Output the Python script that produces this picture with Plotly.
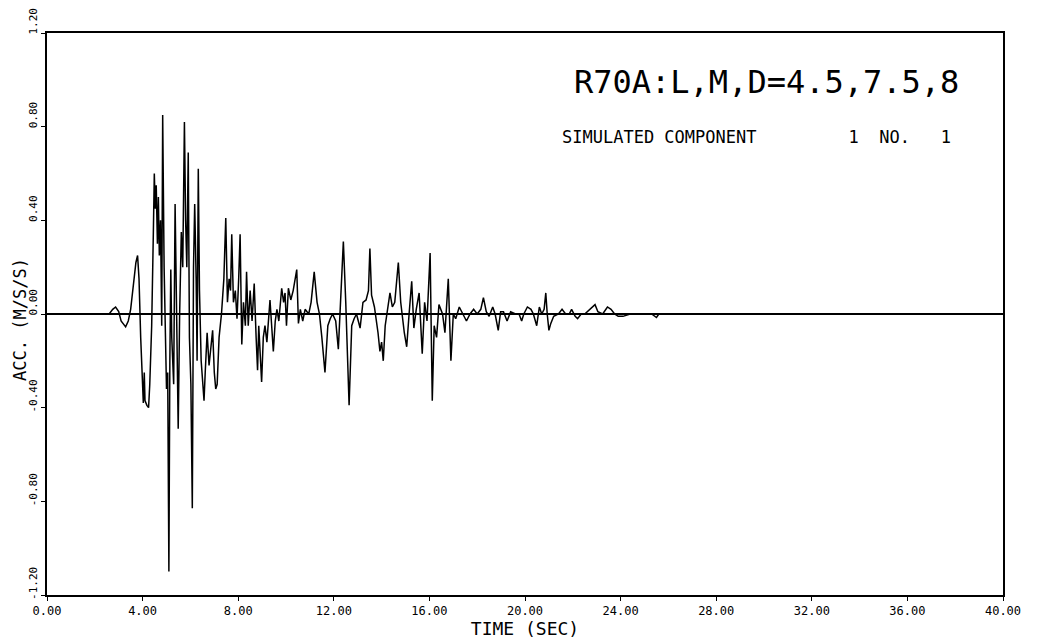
import plotly.graph_objects as go

# Time (s) and acceleration (m/s/s)
time_s = [
    0.0, 2.60, 2.75, 2.87, 3.00, 3.10, 3.29, 3.40, 3.50, 3.62, 3.72, 3.79, 3.85, 3.92, 3.98,
    4.03, 4.07, 4.10, 4.18, 4.25, 4.30, 4.38, 4.45, 4.49, 4.53, 4.57, 4.62, 4.66, 4.70, 4.75,
    4.80, 4.84, 4.90, 4.95, 5.00, 5.05, 5.10, 5.14, 5.18, 5.22, 5.30, 5.36, 5.42, 5.49, 5.55,
    5.62, 5.68, 5.75, 5.80, 5.85, 5.91, 5.96, 6.02, 6.08, 6.13, 6.18, 6.24, 6.28, 6.33, 6.38,
    6.45, 6.52, 6.57, 6.62, 6.70, 6.78, 6.85, 6.93, 7.00, 7.06, 7.12, 7.20, 7.30, 7.40, 7.48,
    7.55, 7.62, 7.68, 7.73, 7.80, 7.88, 7.95, 8.02, 8.08, 8.15, 8.22, 8.30, 8.35, 8.42, 8.50,
    8.58, 8.67, 8.75, 8.81, 8.86, 8.92, 8.98, 9.05, 9.12, 9.20, 9.28, 9.33, 9.40, 9.47, 9.55,
    9.62, 9.70, 9.82, 9.90, 9.96, 10.02, 10.10, 10.20, 10.30, 10.45, 10.52, 10.60, 10.70, 10.80, 10.95,
    11.05, 11.18, 11.30, 11.40, 11.50, 11.63, 11.75, 11.85, 11.95, 12.08, 12.19, 12.28, 12.40, 12.50, 12.64,
    12.75, 12.85, 12.95, 13.10, 13.22, 13.35, 13.45, 13.51, 13.58, 13.70, 13.85, 13.93, 14.00, 14.07, 14.15,
    14.25, 14.35, 14.45, 14.55, 14.70, 14.80, 14.95, 15.05, 15.15, 15.26, 15.35, 15.45, 15.57, 15.70, 15.80,
    15.90, 16.03, 16.12, 16.20, 16.30, 16.40, 16.55, 16.65, 16.79, 16.90, 17.00, 17.10, 17.25, 17.40, 17.55,
    17.70, 17.85, 18.00, 18.15, 18.26, 18.38, 18.50, 18.65, 18.75, 18.88, 18.98, 19.10, 19.25, 19.40, 19.60,
    19.75, 19.86, 19.95, 20.10, 20.25, 20.35, 20.49, 20.60, 20.70, 20.80, 20.87, 20.93, 21.00, 21.08, 21.20,
    21.40, 21.55, 21.70, 21.85, 21.95, 22.10, 22.20, 22.35, 22.50, 22.70, 22.93, 23.05, 23.25, 23.45, 23.60,
    23.75, 23.90, 24.10, 24.40, 24.60, 25.30, 25.50, 25.60, 40.0,
]
accel = [
    0.0, 0.0, 0.02, 0.03, 0.01, -0.03, -0.055, -0.03, 0.02, 0.12, 0.22, 0.25, 0.15, -0.10, -0.30,
    -0.38, -0.25, -0.37, -0.39, -0.40, -0.30, -0.05, 0.35, 0.60, 0.45, 0.55, 0.30, 0.50, 0.25, 0.40,
    -0.05, 0.85, 0.20, -0.05, -0.32, -0.25, -1.10, -0.20, 0.19, -0.10, -0.30, 0.47, 0.10, -0.49, 0.0,
    0.35, 0.20, 0.82, 0.40, 0.20, 0.69, -0.10, -0.30, -0.83, 0.20, 0.47, 0.15, -0.20, 0.62, 0.10,
    -0.20, -0.30, -0.37, -0.25, -0.08, -0.22, -0.15, -0.07, -0.25, -0.32, -0.30, -0.10, 0.0, 0.15, 0.41,
    0.05, 0.15, 0.10, 0.34, 0.05, 0.10, -0.02, 0.15, 0.34, -0.13, 0.05, -0.05, 0.18, -0.05, 0.10,
    -0.03, 0.13, -0.10, -0.24, -0.05, -0.15, -0.29, -0.10, -0.05, -0.12, 0.02, 0.06, -0.05, -0.16, -0.03,
    0.02, -0.03, 0.11, 0.05, 0.09, -0.05, 0.11, 0.06, 0.10, 0.19, -0.04, 0.02, -0.03, 0.02, 0.0,
    0.05, 0.18, 0.05, 0.0, -0.10, -0.25, -0.05, -0.02, 0.0, -0.03, -0.15, 0.05, 0.31, 0.05, -0.39,
    -0.05, -0.02, 0.0, -0.06, 0.05, 0.06, 0.10, 0.28, 0.08, 0.03, -0.08, -0.16, -0.12, -0.20, -0.05,
    0.02, 0.09, 0.03, 0.05, 0.22, 0.05, -0.08, -0.14, 0.0, 0.14, -0.06, 0.02, 0.09, -0.17, 0.05,
    -0.03, 0.26, -0.37, -0.05, -0.10, 0.04, 0.0, -0.08, 0.15, -0.20, 0.0, -0.02, 0.03, 0.0, -0.03,
    0.0, 0.02, 0.0, 0.02, 0.07, 0.01, -0.01, 0.03, 0.0, -0.07, 0.01, 0.01, -0.03, 0.01, 0.0,
    0.0, -0.03, 0.0, 0.03, 0.02, 0.0, -0.05, 0.03, 0.0, 0.02, 0.09, 0.0, -0.07, -0.04, -0.01,
    0.0, 0.02, 0.0, 0.0, 0.02, -0.01, -0.02, 0.0, 0.0, 0.02, 0.04, 0.01, 0.0, 0.03, 0.02,
    0.0, -0.01, -0.01, 0.0, 0.0, 0.0, -0.015, 0.0, 0.0,
]

x_ticks = [0, 4, 8, 12, 16, 20, 24, 28, 32, 36, 40]
x_tick_labels = ["0.00", "4.00", "8.00", "12.00", "16.00", "20.00", "24.00", "28.00", "32.00", "36.00", "40.00"]
y_ticks = [-1.2, -0.8, -0.4, 0.0, 0.4, 0.8, 1.2]
y_tick_labels = ["-1.20", "-0.80", "-0.40", "0.00", "0.40", "0.80", "1.20"]

title_line1 = "R70A:L,M,D=4.5,7.5,8"
title_line2 = "SIMULATED COMPONENT\u00a0\u00a0\u00a0\u00a0\u00a0\u00a0\u00a0\u00a0\u00a01\u00a0\u00a0NO.\u00a0\u00a0\u00a01"
x_title = "TIME (SEC)"
y_title = "ACC. (M/S/S)"

FONT = "DejaVu Sans Mono"

fig = go.Figure()
fig.add_trace(go.Scatter(
    x=time_s, y=accel, mode="lines",
    line=dict(color="black", width=1.5),
    showlegend=False, hoverinfo="skip",
))

# The page body adds an 8 px offset, so the figure is sized to compensate.
fig.update_layout(
    width=1036, height=631,
    margin=dict(l=39, r=41, t=25, b=44, autoexpand=False),
    paper_bgcolor="white", plot_bgcolor="white",
    font=dict(family=FONT, color="black", size=12),
    showlegend=False,
    xaxis=dict(
        range=[0, 40], tickvals=x_ticks, ticktext=x_tick_labels, automargin=False,
        showgrid=False, zeroline=False, showline=True, linecolor="black", linewidth=1.5,
        mirror=True, ticks="outside", ticklen=4, tickcolor="black",
        tickfont=dict(family=FONT, size=12),
        title=dict(text=x_title, font=dict(family=FONT, size=18), standoff=0),
    ),
    yaxis=dict(
        range=[-1.2, 1.2], tickvals=y_ticks, ticktext=y_tick_labels, automargin=False,
        showgrid=False, zeroline=True, zerolinecolor="black", zerolinewidth=1.6,
        showline=True, linecolor="black", linewidth=1.5,
        mirror=True, ticks="outside", ticklen=4, tickcolor="black",
        tickangle=-90, ticklabelshift=-10, ticklabeloverflow="allow",
        tickfont=dict(family=FONT, size=11),
    ),
    annotations=[
        dict(text=title_line1, xref="paper", yref="paper", x=0.549, y=0.913,
             xanchor="left", yanchor="middle", showarrow=False,
             font=dict(family=FONT, size=32)),
        dict(text=title_line2, xref="paper", yref="paper", x=0.537, y=0.815,
             xanchor="left", yanchor="middle", showarrow=False,
             font=dict(family=FONT, size=17)),
        dict(text=y_title, xref="paper", yref="paper", x=-0.029, y=0.49,
             xanchor="center", yanchor="middle", showarrow=False, textangle=-90,
             font=dict(family=FONT, size=17)),
    ],
)

fig.write_html("out.html")
